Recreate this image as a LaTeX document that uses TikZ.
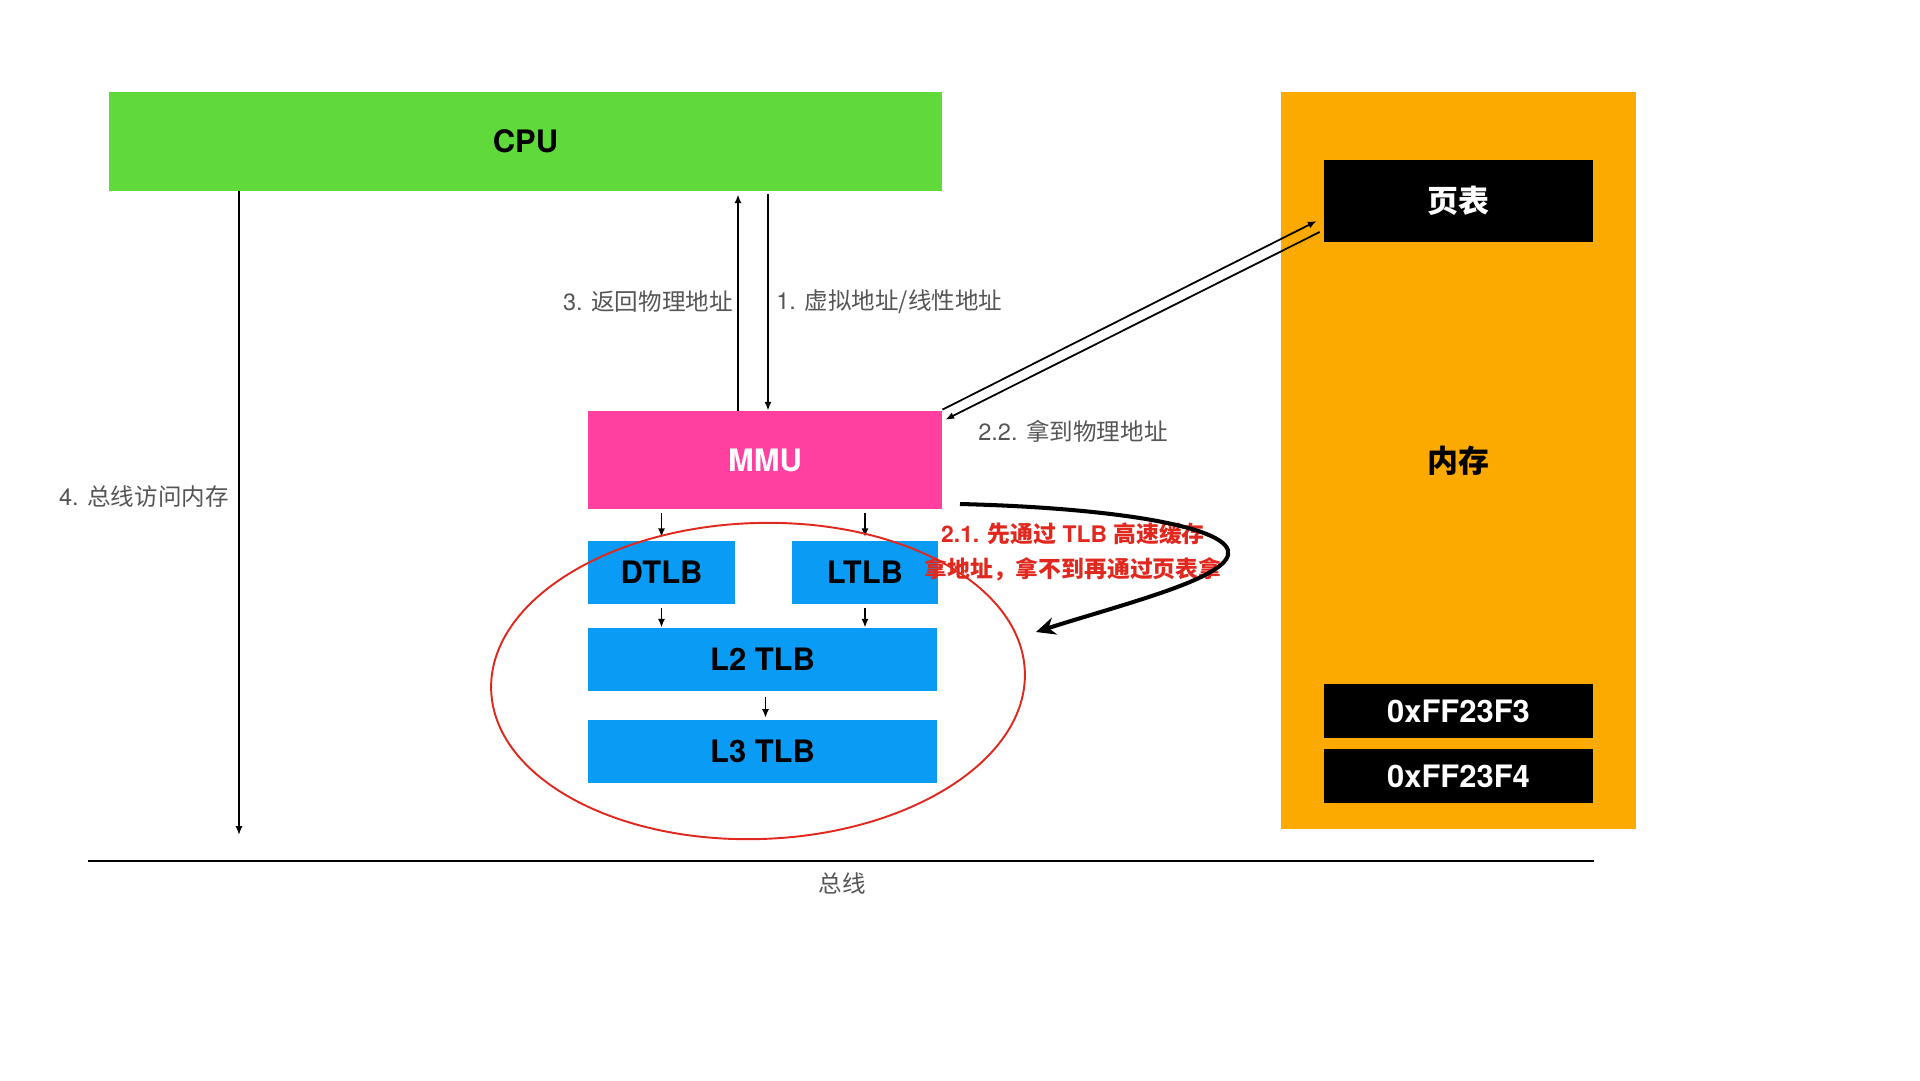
\documentclass[tikz,border=0pt]{standalone}
\usepackage{fontspec}
\setmainfont{TeX Gyre Heros}
\newfontfamily\cjk{Noto Sans CJK SC}
\usetikzlibrary{arrows.meta,calc}
\definecolor{cpugreen}{RGB}{96,218,58}
\definecolor{mmupink}{RGB}{255,64,160}
\definecolor{tlbblue}{RGB}{10,155,245}
\definecolor{memorange}{RGB}{253,170,0}
\definecolor{labelgrey}{RGB}{85,85,85}
\definecolor{markred}{RGB}{225,40,30}

\begin{document}
\begin{tikzpicture}[x=0.02cm,y=-0.02cm,
  boxsize/.style 2 args={minimum width=#1*0.02cm,minimum height=#2*0.02cm},
  box/.style={inner sep=0pt,font=\fontsize{17.6}{20}\selectfont\bfseries},
  lbl/.style={inner sep=0pt,text=labelgrey,font=\fontsize{13.4}{16}\selectfont},
  link/.style={line width=1pt,-{Latex[length=5pt,width=4pt]}}]
\useasboundingbox (0,0) rectangle (1920,1080);

% boxes
\node[box,boxsize={833}{99},fill=cpugreen] (cpu) at (525.5,141.5) {CPU};
\node[box,boxsize={355}{737},fill=memorange] (mem) at (1458.5,460.5) {\cjk 内存};
\node[box,boxsize={269}{82},fill=black,text=white] (pt) at (1458.5,201) {\cjk 页表};
\node[box,boxsize={269}{54},fill=black,text=white] (addra) at (1458.5,711) {0xFF23F3};
\node[box,boxsize={269}{54},fill=black,text=white] (addrb) at (1458.5,776) {0xFF23F4};
\node[box,boxsize={354}{98},fill=mmupink,text=white] (mmu) at (765,460) {MMU};
\node[box,boxsize={147}{63},fill=tlbblue] (dtlb) at (661.5,572.5) {DTLB};
\node[box,boxsize={146}{63},fill=tlbblue] (ltlb) at (865,572.5) {LTLB};
\node[box,boxsize={349}{63},fill=tlbblue] (ltwo) at (762.5,659.5) {L2 TLB};
\node[box,boxsize={349}{63},fill=tlbblue] (lthree) at (762.5,751.5) {L3 TLB};

% cpu <-> mmu
\coordinate (upx) at (738,0);
\coordinate (downx) at (768,0);
\draw[link] (upx |- mmu.north) -- ($(upx |- cpu.south)+(0,3)$);
\draw[link] ($(downx |- cpu.south)+(0,3)$) -- (downx |- mmu.north);
\node[lbl,anchor=east] (retlbl) at (733,302) {3. {\cjk 返回物理地址}};
\node[lbl,anchor=west] (virtlbl) at (776,302) {1. {\cjk 虚拟地址/线性地址}};

% mmu -> tlb levels
\draw[link,shorten <=2pt,shorten >=2pt] (dtlb.north |- mmu.south) -- (dtlb.north);
\draw[link,shorten <=2pt,shorten >=2pt] (ltlb.north |- mmu.south) -- (ltlb.north);
\draw[link,shorten <=2pt] (dtlb.south) -- (dtlb.south |- ltwo.north);
\draw[link,shorten <=2pt] (ltlb.south) -- (ltlb.south |- ltwo.north);
\draw[link,shorten <=3pt,shorten >=1pt] ($(ltwo.south)+(3,0)$) -- ($(lthree.north)+(3,0)$);

% mmu <-> page table
\draw[link] ($(mmu.north east)+(0,-1)$) -- ($(pt.west)+(-7,20)$);
\draw[link] ($(pt.west)+(-4,31)$) -- ($(mmu.north east)+(3,9)$);
\node[lbl,anchor=west] (getlbl) at (978,431) {2.2. {\cjk 拿到物理地址}};

% bus
\coordinate (busl) at (88,861);
\coordinate (busr) at (1594,861);
\coordinate (busend) at (239,835);
\draw[line width=1.2pt] (busl) -- (busr);
\node[lbl] (busname) at (842,883) {\cjk 总线};
\draw[link] (busend |- cpu.south) -- (busend);
\node[lbl,anchor=east] (buslbl) at (229,497) {4. {\cjk 总线访问内存}};

% tlb circle and note
\draw[markred,line width=1.1pt,rotate around={2:(758,681)}] (758,681) ellipse ({267*0.02cm} and {158*0.02cm});
\node[inner sep=0pt,align=center,text=markred,font=\fontsize{13}{19.8}\selectfont\bfseries] (hint) at (1073,552)
  {2.1. {\cjk 先通过} TLB {\cjk 高速缓存}\\{\cjk 拿地址，拿不到再通过页表拿}};
\coordinate (hookstart) at (960,504);
\coordinate (hookend) at (1036,632);
\draw[line width=2.3pt,-{Stealth[length=11pt,width=10pt]}] (hookstart)
  .. controls (1120,508) and (1235,528) .. (1228,555)
  .. controls (1222,580) and (1120,605) .. (hookend);
\end{tikzpicture}
\end{document}
